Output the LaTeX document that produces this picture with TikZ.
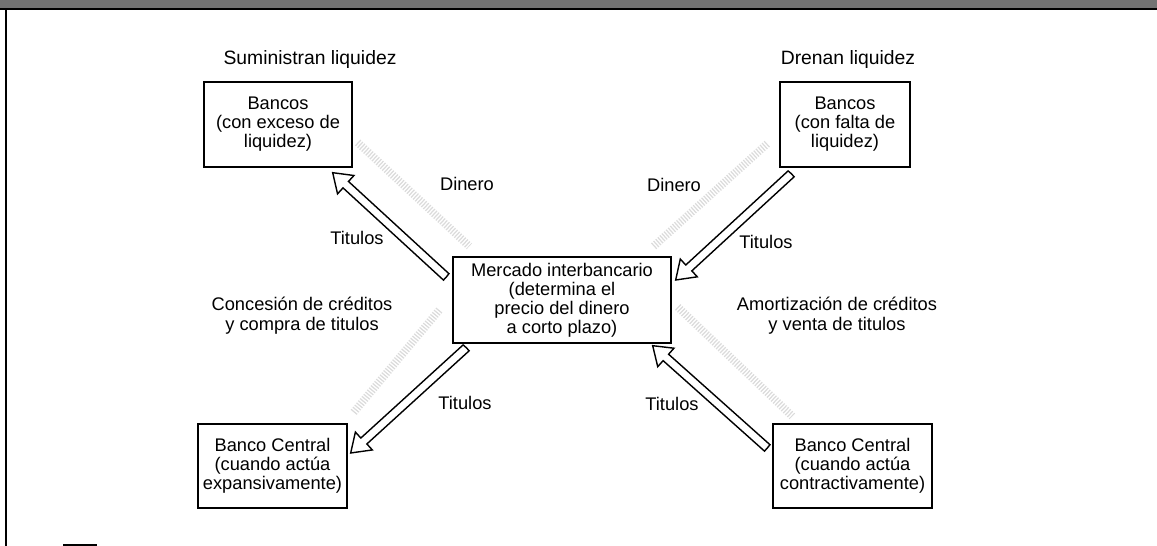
\documentclass[tikz,border=0pt]{standalone}
\usepackage{fontspec}
\setmainfont{Liberation Sans}
\usetikzlibrary{calc}

%% hollow arrow from #1 to #2
\newcommand{\hollowarrow}[2]{%
  \draw[hollow] let \p1=(#1), \p2=(#2),
      \n1={atan2(\y2-\y1,\x2-\x1)},
      \n2={veclen(\x2-\x1,\y2-\y1)-10pt} in
    (\p1) -- ++(\n1+90:2.4pt) -- ++(\n1:\n2) -- ++(\n1+90:4.6pt) -- (\p2)
    -- ($(\p2)+(\n1+180:10pt)+(\n1-90:7pt)$) -- ++(\n1+90:4.6pt)
    -- ++(\n1+180:\n2) -- cycle;}

\begin{document}
\begin{tikzpicture}
    [x=0.02cm, y=-0.02cm,
    box/.style={draw, thick, align=center, inner sep=0pt, font=\fontsize{10.4}{10.8}\selectfont},
    lbl/.style={align=center, font=\fontsize{10.4}{11.3}\selectfont},
    head/.style={font=\fontsize{11}{13}\selectfont},
    hollow/.style={draw, fill=white, line width=0.8pt, line join=miter},
    money/.style={line width=4.5pt, black!14, dash pattern=on 0.7pt off 0.9pt}]
        \useasboundingbox (0,0) rectangle (1157,546);
        %% page frame
        \fill[black!55] (0,0) rectangle (1157,8);
        \draw[line width=1.5pt] (0,9) -- (1157,9);
        \draw[line width=1pt] (6,9) -- (6,546);
        \draw[line width=1pt] (63,545) -- (97,545);

        %% boxes
        \node[box, minimum width=2.96cm, minimum height=1.7cm] (B1) at (278,124.5) {Bancos\\(con exceso de\\liquidez)};
        \node[box, minimum width=2.6cm, minimum height=1.7cm] (B2) at (845,124.5) {Bancos\\(con falta de\\liquidez)};
        \node[box, minimum width=4.36cm, minimum height=1.72cm] (M) at (562,300) {Mercado interbancario\\(determina el\\precio del dinero\\a corto plazo)};
        \node[box, minimum width=2.98cm, minimum height=1.68cm] (C1) at (272.5,466) {Banco Central\\(cuando actúa\\expansivamente)};
        \node[box, minimum width=3.18cm, minimum height=1.68cm] (C2) at (852.5,466) {Banco Central\\(cuando actúa\\contractivamente)};

        %% titles and labels
        \node[head] (S) at (310,60) {Suministran liquidez};
        \node[head] (D) at (848,60) {Drenan liquidez};
        \node[lbl] (d1) at (467,184) {Dinero};
        \node[lbl] (d2) at (674,185) {Dinero};
        \node[lbl] (t1) at (357,238) {Titulos};
        \node[lbl] (t2) at (766,242) {Titulos};
        \node[lbl] (t3) at (465,403) {Titulos};
        \node[lbl] (t4) at (672,404) {Titulos};
        \node[lbl] (k1) at (302,316) {Concesión de créditos\\y compra de titulos};
        \node[lbl] (k2) at (837,316) {Amortización de créditos\\y venta de titulos};

        %% money flows
        \draw[money] ([shift={(5,18)}]B1.east) -- ([shift={(17,-10)}]M.north west);
        \draw[money] ([shift={(-18,-10)}]M.north east) -- ([shift={(-12,-24)}]B2.south west);
        \draw[money] ([shift={(6,-11)}]C1.north east) -- ([shift={(-13,10)}]M.west);
        \draw[money] ([shift={(6,7)}]M.east) -- ([shift={(20,-7)}]C2.north west);

        %% securities
        \coordinate (a1) at ([shift={(-6,-23)}]M.west);
        \coordinate (b1) at ([shift={(-20,5)}]B1.south east);
        \coordinate (a2) at ([shift={(12,6)}]B2.south west);
        \coordinate (b2) at ([shift={(4,-20)}]M.east);
        \coordinate (a3) at ([shift={(14,4)}]M.south west);
        \coordinate (b3) at ([shift={(3,-13)}]C1.east);
        \coordinate (a4) at ([shift={(-5,-18)}]C2.west);
        \coordinate (b4) at ([shift={(-19,2)}]M.south east);
        \hollowarrow{a1}{b1}
        \hollowarrow{a2}{b2}
        \hollowarrow{a3}{b3}
        \hollowarrow{a4}{b4}
    \end{tikzpicture}
\end{document}
